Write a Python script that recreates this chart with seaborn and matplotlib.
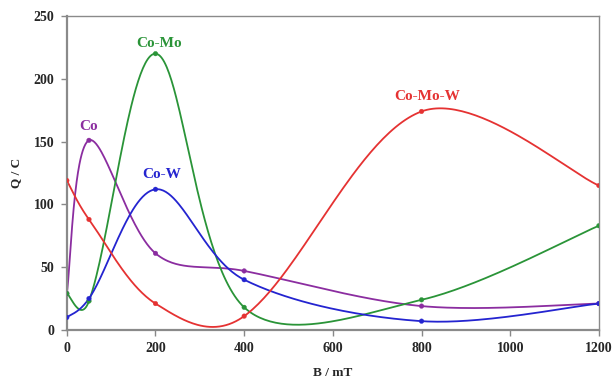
import numpy as np
import pandas as pd
import seaborn as sns
import matplotlib.pyplot as plt

# measured points, B in mT
field = [0, 50, 200, 400, 800, 1200]
q_co = [29, 151, 61, 47, 19, 21]
q_como = [29, 23, 220, 18, 24, 83]
q_cow = [10, 25, 112, 40, 7, 21]
q_comow = [119, 88, 21, 11, 174, 115]

series_names = ["Co", "Co-Mo", "Co-W", "Co-Mo-W"]
series_vals = [q_co, q_como, q_cow, q_comow]
colors = {"Co": "#8B2DA0", "Co-Mo": "#2A9438", "Co-W": "#2424D0", "Co-Mo-W": "#E53232"}
label_pos = {"Co": (50, 162), "Co-Mo": (207, 228), "Co-W": (214, 124), "Co-Mo-W": (812, 186)}

# pixel scale of the axes, so the smoothing works in screen space like excel
SX, SY = 532 / 1200, 314 / 250


def smooth(xs, ys, n=60):
    p = np.column_stack([np.array(xs) * SX, np.array(ys) * SY]).astype(float)
    d = np.linalg.norm(np.diff(p, axis=0), axis=1)
    m = len(p)
    tan = np.zeros_like(p)
    for i in range(m):
        tan[i] = p[min(i + 1, m - 1)] - p[max(i - 1, 0)]
    out = []
    t = np.linspace(0, 1, n)[:, None]
    for i in range(m - 1):
        p0, p3 = p[i], p[i + 1]
        # halfway between plain catmull-rom (1/6) and length-weighted tangents
        f1 = 1 / 6 if i == 0 else (1 / 6 + d[i] / (3 * (d[i - 1] + d[i]))) / 2
        f2 = 1 / 6 if i == m - 2 else (1 / 6 + d[i] / (3 * (d[i] + d[i + 1]))) / 2
        c1 = p0 + tan[i] * f1
        c2 = p3 - tan[i + 1] * f2
        seg = (1 - t) ** 3 * p0 + 3 * (1 - t) ** 2 * t * c1 + 3 * (1 - t) * t ** 2 * c2 + t ** 3 * p3
        out.append(seg)
    out = np.vstack(out)
    return out[:, 0] / SX, out[:, 1] / SY


curves = []
points = []
for name, vals in zip(series_names, series_vals):
    cx, cy = smooth(field, vals)
    curves.append(pd.DataFrame({"B": cx, "Q": cy, "alloy": name}))
    points.append(pd.DataFrame({"B": field, "Q": vals, "alloy": name}))
curves = pd.concat(curves)
points = pd.concat(points)

sns.set_style("white")
plt.rcParams['font.family'] = ['Liberation Serif', 'DejaVu Serif']

fig = plt.figure(figsize=(6.13, 3.81), dpi=100)
ax = fig.add_axes([0.109, 0.134, 0.868, 0.824])

for name in series_names:
    d = curves[curves["alloy"] == name]
    ax.plot(d["B"], d["Q"], color=colors[name], lw=1.3)
sns.scatterplot(data=points, x="B", y="Q", hue="alloy", palette=colors, s=11,
                edgecolor=None, legend=False, ax=ax, zorder=3)

for name in series_names:
    x, y = label_pos[name]
    ax.text(x, y, name, color=colors[name], fontsize=11, fontweight="bold", ha="center", va="center")

ax.set_xlim(0, 1200)
ax.set_ylim(0, 250)
ax.set_xticks(range(0, 1201, 200))
ax.set_yticks(range(0, 251, 50))
ax.set_xlabel("B / mT", fontsize=9.5, fontweight="bold", labelpad=8)
ax.set_ylabel("Q / C", fontsize=9.5, fontweight="bold", labelpad=8)
for lab in ax.get_xticklabels() + ax.get_yticklabels():
    lab.set_fontweight("bold")
ax.tick_params(labelsize=10, length=4, width=1, color="#888888", direction="out",
               bottom=True, left=True, pad=5)
for side, sp in ax.spines.items():
    sp.set_color("#8a8a8a")
    sp.set_linewidth(1.6 if side in ("left", "bottom") else 1.0)

fig.savefig("out.png", dpi=100)
